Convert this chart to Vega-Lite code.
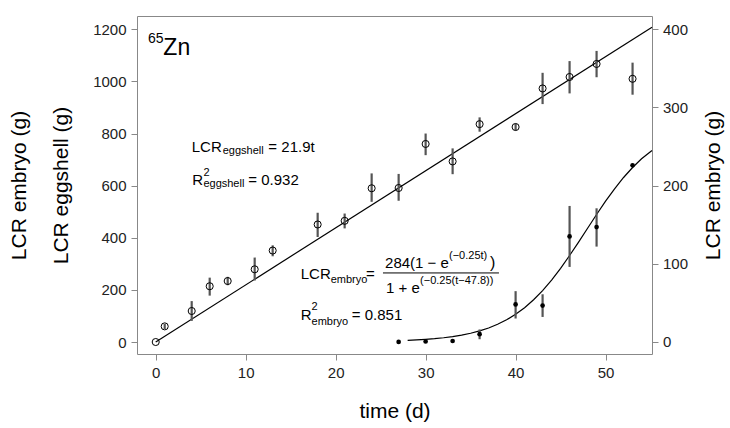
{
  "$schema": "https://vega.github.io/schema/vega-lite/v6.json",
  "width": 515,
  "height": 338,
  "padding": {"left": 137, "top": 16, "right": 78, "bottom": 74},
  "autosize": {"type": "none"},
  "config": {
    "font": "Liberation Sans",
    "view": {"stroke": "#888", "strokeWidth": 1},
    "axis": {"grid": false, "domain": false, "tickColor": "#888", "tickSize": 6, "labelFontSize": 15, "labelColor": "#222", "titleFontSize": 21, "titleFontWeight": "normal", "titleColor": "#000", "labelPadding": 5, "labelFont": "Liberation Sans", "titleFont": "Liberation Sans", "format": "d"},
    "text": {"font": "Liberation Sans", "color": "#000", "align": "left", "baseline": "alphabetic"}
  },
  "datasets": {
    "egg": [
      {"t": 0, "v": 0, "lo": 0, "hi": 0},
      {"t": 1, "v": 60, "lo": 50, "hi": 70},
      {"t": 4, "v": 119, "lo": 81, "hi": 157},
      {"t": 6, "v": 214, "lo": 178, "hi": 247},
      {"t": 8, "v": 234, "lo": 218, "hi": 250},
      {"t": 11, "v": 279, "lo": 236, "hi": 324},
      {"t": 13, "v": 351, "lo": 329, "hi": 371},
      {"t": 18, "v": 451, "lo": 403, "hi": 496},
      {"t": 21, "v": 465, "lo": 436, "hi": 493},
      {"t": 24, "v": 590, "lo": 538, "hi": 647},
      {"t": 27, "v": 591, "lo": 542, "hi": 645},
      {"t": 30, "v": 760, "lo": 717, "hi": 800},
      {"t": 33, "v": 693, "lo": 644, "hi": 743},
      {"t": 36, "v": 836, "lo": 807, "hi": 862},
      {"t": 40, "v": 825, "lo": 812, "hi": 838},
      {"t": 43, "v": 973, "lo": 913, "hi": 1033},
      {"t": 46, "v": 1017, "lo": 954, "hi": 1078},
      {"t": 49, "v": 1067, "lo": 1016, "hi": 1117},
      {"t": 53, "v": 1010, "lo": 949, "hi": 1072}
    ],
    "emb": [
      {"t": 27, "e": 0, "lo": 0, "hi": 0},
      {"t": 30, "e": 0.6, "lo": 0.6, "hi": 0.6},
      {"t": 33, "e": 1.2, "lo": 1.2, "hi": 1.2},
      {"t": 36, "e": 10, "lo": 3.5, "hi": 16},
      {"t": 40, "e": 48, "lo": 30, "hi": 65},
      {"t": 43, "e": 46.5, "lo": 32, "hi": 61},
      {"t": 46, "e": 135, "lo": 96, "hi": 174},
      {"t": 49, "e": 147, "lo": 122, "hi": 171},
      {"t": 53, "e": 226, "lo": 226, "hi": 226}
    ],
    "eggfit": [
      {"t": 0, "v": 0},
      {"t": 55.16, "v": 1208}
    ],
    "embfit": [
      {"t": 28, "e": 2.0}, {"t": 29, "e": 2.56}, {"t": 30, "e": 3.28}, {"t": 31, "e": 4.19},
      {"t": 32, "e": 5.36}, {"t": 33, "e": 6.85}, {"t": 34, "e": 8.74}, {"t": 35, "e": 11.12},
      {"t": 36, "e": 14.12}, {"t": 37, "e": 17.88}, {"t": 38, "e": 22.56}, {"t": 39, "e": 28.33},
      {"t": 40, "e": 35.37}, {"t": 41, "e": 43.87}, {"t": 42, "e": 53.96}, {"t": 43, "e": 65.7},
      {"t": 44, "e": 79.2}, {"t": 45, "e": 94.23}, {"t": 46, "e": 110.6}, {"t": 47, "e": 127.8},
      {"t": 48, "e": 145.5}, {"t": 49, "e": 163.1}, {"t": 50, "e": 180.1}, {"t": 51, "e": 195.9},
      {"t": 52, "e": 210.4}, {"t": 53, "e": 223.2}, {"t": 54, "e": 234.3}, {"t": 55.16, "e": 244.9}
    ]
  },
  "layer": [
    {
      "data": {"values": [{}]},
      "layer": [
        {
          "data": {"name": "eggfit"},
          "mark": {"type": "line", "color": "#000", "strokeWidth": 1.2},
          "encoding": {
            "x": {"field": "t", "type": "quantitative", "scale": {"domain": [-2.08, 55.16], "nice": false, "zero": false},
                  "axis": {"values": [0, 10, 20, 30, 40, 50], "title": "time (d)", "titlePadding": 20}},
            "y": {"field": "v", "type": "quantitative", "scale": {"domain": [-46, 1251], "nice": false, "zero": false},
                  "axis": {"orient": "left", "values": [0, 200, 400, 600, 800, 1000, 1200], "title": ["LCR embryo (g)", "LCR eggshell (g)"], "titlePadding": 21, "titleLineHeight": 42}}
          }
        },
        {
          "data": {"name": "egg"},
          "mark": {"type": "rule", "color": "#555", "strokeWidth": 2.2},
          "encoding": {
            "x": {"field": "t", "type": "quantitative"},
            "y": {"field": "lo", "type": "quantitative"},
            "y2": {"field": "hi"}
          }
        },
        {
          "data": {"name": "egg"},
          "mark": {"type": "point", "shape": "circle", "filled": false, "stroke": "#000", "strokeWidth": 1, "size": 50, "opacity": 1},
          "encoding": {
            "x": {"field": "t", "type": "quantitative"},
            "y": {"field": "v", "type": "quantitative"}
          }
        },
        {"mark": {"type": "text", "fontSize": 14}, "encoding": {"x": {"datum": -0.86, "type": "quantitative"}, "y": {"datum": 1147, "type": "quantitative"}, "text": {"value": "65"}}},
        {"mark": {"type": "text", "fontSize": 23}, "encoding": {"x": {"datum": 0.85, "type": "quantitative"}, "y": {"datum": 1101, "type": "quantitative"}, "text": {"value": "Zn"}}},
        {"mark": {"type": "text", "fontSize": 15}, "encoding": {"x": {"datum": 4.0, "type": "quantitative"}, "y": {"datum": 730, "type": "quantitative"}, "text": {"value": "LCR"}}},
        {"mark": {"type": "text", "fontSize": 11}, "encoding": {"x": {"datum": 7.45, "type": "quantitative"}, "y": {"datum": 723, "type": "quantitative"}, "text": {"value": "eggshell"}}},
        {"mark": {"type": "text", "fontSize": 15}, "encoding": {"x": {"datum": 12.52, "type": "quantitative"}, "y": {"datum": 730, "type": "quantitative"}, "text": {"value": "= 21.9t"}}},
        {"mark": {"type": "text", "fontSize": 15}, "encoding": {"x": {"datum": 4.07, "type": "quantitative"}, "y": {"datum": 602, "type": "quantitative"}, "text": {"value": "R"}}},
        {"mark": {"type": "text", "fontSize": 11}, "encoding": {"x": {"datum": 5.3, "type": "quantitative"}, "y": {"datum": 637, "type": "quantitative"}, "text": {"value": "2"}}},
        {"mark": {"type": "text", "fontSize": 11}, "encoding": {"x": {"datum": 5.3, "type": "quantitative"}, "y": {"datum": 595, "type": "quantitative"}, "text": {"value": "eggshell"}}},
        {"mark": {"type": "text", "fontSize": 15}, "encoding": {"x": {"datum": 10.29, "type": "quantitative"}, "y": {"datum": 602, "type": "quantitative"}, "text": {"value": "= 0.932"}}},
        {"mark": {"type": "text", "fontSize": 15}, "encoding": {"x": {"datum": 16.12, "type": "quantitative"}, "y": {"datum": 242, "type": "quantitative"}, "text": {"value": "LCR"}}},
        {"mark": {"type": "text", "fontSize": 11}, "encoding": {"x": {"datum": 19.45, "type": "quantitative"}, "y": {"datum": 226, "type": "quantitative"}, "text": {"value": "embryo"}}},
        {"mark": {"type": "text", "fontSize": 15}, "encoding": {"x": {"datum": 23.37, "type": "quantitative"}, "y": {"datum": 242, "type": "quantitative"}, "text": {"value": "="}}},
        {"mark": {"type": "text", "fontSize": 15}, "encoding": {"x": {"datum": 25.49, "type": "quantitative"}, "y": {"datum": 284, "type": "quantitative"}, "text": {"value": "284(1 − e"}}},
        {"mark": {"type": "text", "fontSize": 11}, "encoding": {"x": {"datum": 32.6, "type": "quantitative"}, "y": {"datum": 318, "type": "quantitative"}, "text": {"value": "(−0.25t)"}}},
        {"mark": {"type": "text", "fontSize": 16}, "encoding": {"x": {"datum": 37.15, "type": "quantitative"}, "y": {"datum": 284, "type": "quantitative"}, "text": {"value": ")"}}},
        {"mark": {"type": "rule", "color": "#000", "strokeWidth": 1}, "encoding": {"x": {"datum": 25.26, "type": "quantitative"}, "x2": {"datum": 38.15}, "y": {"datum": 265, "type": "quantitative"}}},
        {"mark": {"type": "text", "fontSize": 15}, "encoding": {"x": {"datum": 25.6, "type": "quantitative"}, "y": {"datum": 188, "type": "quantitative"}, "text": {"value": "1 + e"}}},
        {"mark": {"type": "text", "fontSize": 11}, "encoding": {"x": {"datum": 29.38, "type": "quantitative"}, "y": {"datum": 222.6, "type": "quantitative"}, "text": {"value": "(−0.25(t−47.8))"}}},
        {"mark": {"type": "text", "fontSize": 15}, "encoding": {"x": {"datum": 16.12, "type": "quantitative"}, "y": {"datum": 84.5, "type": "quantitative"}, "text": {"value": "R"}}},
        {"mark": {"type": "text", "fontSize": 11}, "encoding": {"x": {"datum": 17.32, "type": "quantitative"}, "y": {"datum": 122.8, "type": "quantitative"}, "text": {"value": "2"}}},
        {"mark": {"type": "text", "fontSize": 11}, "encoding": {"x": {"datum": 17.32, "type": "quantitative"}, "y": {"datum": 65.3, "type": "quantitative"}, "text": {"value": "embryo"}}},
        {"mark": {"type": "text", "fontSize": 15}, "encoding": {"x": {"datum": 21.79, "type": "quantitative"}, "y": {"datum": 84.5, "type": "quantitative"}, "text": {"value": "= 0.851"}}}
      ]
    },
    {
      "layer": [
        {
          "data": {"name": "embfit"},
          "mark": {"type": "line", "color": "#000", "strokeWidth": 1.2},
          "encoding": {
            "x": {"field": "t", "type": "quantitative"},
            "y": {"field": "e", "type": "quantitative", "scale": {"domain": [-15.4, 417], "nice": false, "zero": false},
                  "axis": {"orient": "right", "values": [0, 100, 200, 300, 400], "title": "LCR embryo (g)", "titleAngle": 270, "titleBaseline": "top", "titlePadding": 15, "labelPadding": 4.5}}
          }
        },
        {
          "data": {"name": "emb"},
          "mark": {"type": "rule", "color": "#555", "strokeWidth": 2.2},
          "encoding": {
            "x": {"field": "t", "type": "quantitative"},
            "y": {"field": "lo", "type": "quantitative"},
            "y2": {"field": "hi"}
          }
        },
        {
          "data": {"name": "emb"},
          "mark": {"type": "circle", "color": "#000", "size": 22, "opacity": 1},
          "encoding": {
            "x": {"field": "t", "type": "quantitative"},
            "y": {"field": "e", "type": "quantitative"}
          }
        }
      ]
    }
  ],
  "resolve": {"scale": {"y": "independent"}, "axis": {"y": "independent"}}
}
